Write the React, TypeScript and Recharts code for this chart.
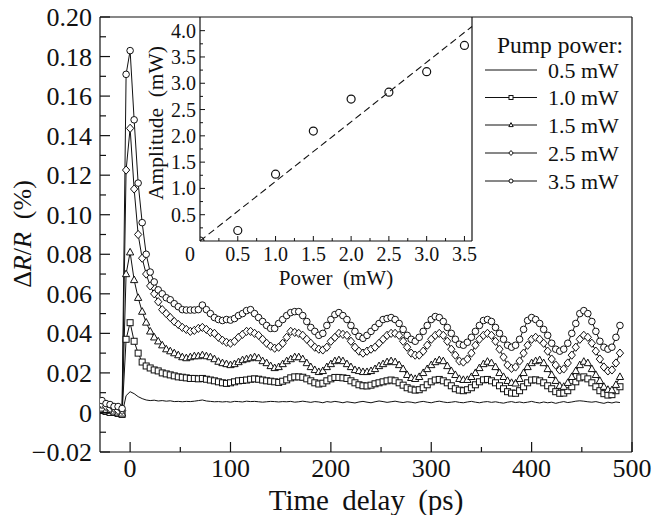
import React from "react";
import {
  LineChart,
  Line,
  XAxis,
  YAxis,
  ReferenceLine,
  ScatterChart,
  Scatter,
} from "recharts";

// time delay (ps)
const times = [
  -28, -24, -20, -16, -12, -8, -4, 0, 4, 8,
  12, 16, 20, 24, 28, 32, 36, 40, 44, 48,
  52, 56, 60, 64, 68, 72, 76, 80, 84, 88,
  92, 96, 100, 104, 108, 112, 116, 120, 124, 128,
  132, 136, 140, 144, 148, 152, 156, 160, 164, 168,
  172, 176, 180, 184, 188, 192, 196, 200, 204, 208,
  212, 216, 220, 224, 228, 232, 236, 240, 244, 248,
  252, 256, 260, 264, 268, 272, 276, 280, 284, 288,
  292, 296, 300, 304, 308, 312, 316, 320, 324, 328,
  332, 336, 340, 344, 348, 352, 356, 360, 364, 368,
  372, 376, 380, 384, 388, 392, 396, 400, 404, 408,
  412, 416, 420, 424, 428, 432, 436, 440, 444, 448,
  452, 456, 460, 464, 468, 472, 476, 480, 484, 488,
];

// dR/R (%) per pump power
const p05 = [
  0.0008, 0.0003, 0.0002, -0.0002, -0.0005, -0.0008, 0.0085, 0.0105, 0.0095, 0.008,
  0.007, 0.0063, 0.006, 0.0062, 0.0058, 0.006, 0.0057, 0.0059, 0.0055, 0.0056,
  0.0054, 0.0056, 0.0055, 0.0057, 0.006, 0.0063, 0.0058, 0.0056, 0.0054, 0.0055,
  0.0053, 0.0055, 0.0052, 0.0056, 0.0055, 0.0053, 0.0057, 0.0055, 0.0056, 0.0054,
  0.0052, 0.0054, 0.0056, 0.0055, 0.0053, 0.0055, 0.0054, 0.0056, 0.0052, 0.0054,
  0.0057, 0.0054, 0.0051, 0.0055, 0.0053, 0.0049, 0.0055, 0.0052, 0.0056, 0.0053,
  0.0049, 0.0054, 0.0051, 0.0048, 0.0053, 0.0056, 0.0052, 0.0049, 0.0054, 0.0058,
  0.0055, 0.0051, 0.0054, 0.0057, 0.0053, 0.005, 0.0054, 0.0052, 0.0048, 0.0053,
  0.0056, 0.0052, 0.0049, 0.0054, 0.0057, 0.0053, 0.005, 0.0052, 0.0055, 0.0051,
  0.0049, 0.0053, 0.0056, 0.0052, 0.0049, 0.0053, 0.0055, 0.0051, 0.0054, 0.005,
  0.0047, 0.0052, 0.0055, 0.005, 0.0053, 0.0049, 0.0052, 0.0056, 0.0051, 0.0048,
  0.0053, 0.0049, 0.0052, 0.0046, 0.0051, 0.0055, 0.005, 0.0053, 0.0057, 0.0059,
  0.0057, 0.0054, 0.0052, 0.0055, 0.005, 0.0046, 0.0052, 0.0048, 0.0053, 0.005,
];

const p10 = [
  0.001, 0.0005, 0.0, 0.0, -0.0005, -0.001, 0.037, 0.0454, 0.036, 0.03,
  0.0255, 0.0235, 0.0225, 0.0215, 0.021, 0.02, 0.0195, 0.019, 0.0185, 0.018,
  0.0178, 0.0175, 0.0172, 0.0172, 0.017, 0.0172, 0.0168, 0.0164, 0.016, 0.0155,
  0.015, 0.0147, 0.015, 0.0155, 0.016, 0.0162, 0.0164, 0.0168, 0.017, 0.0168,
  0.0164, 0.016, 0.0158, 0.0155, 0.0152, 0.0158, 0.0165, 0.0175, 0.018, 0.018,
  0.0178, 0.017, 0.016, 0.015, 0.0144, 0.0148, 0.016, 0.017, 0.0177, 0.0177,
  0.0175, 0.0172, 0.016, 0.015, 0.014, 0.0135, 0.0134, 0.0138, 0.0145, 0.015,
  0.0155, 0.016, 0.0164, 0.016, 0.015, 0.0138, 0.0125, 0.0118, 0.0113, 0.0115,
  0.0125, 0.014, 0.0155, 0.0164, 0.0167, 0.016, 0.015, 0.0135, 0.012, 0.0113,
  0.011, 0.0115, 0.0125, 0.014, 0.0155, 0.0165, 0.0167, 0.016, 0.015, 0.0135,
  0.012, 0.0105, 0.0098, 0.0097, 0.011, 0.013, 0.015, 0.0164, 0.0165, 0.016,
  0.015, 0.0135, 0.012, 0.0105, 0.0097, 0.0098, 0.011, 0.013, 0.0155, 0.0175,
  0.018, 0.017, 0.015, 0.013, 0.011, 0.0095, 0.0088, 0.009, 0.011, 0.013,
];

const p15 = [
  0.002, 0.001, 0.001, 0.0005, 0.0, -0.0005, 0.07, 0.081, 0.067, 0.058,
  0.051, 0.0455, 0.041, 0.038, 0.036, 0.034, 0.032, 0.031, 0.03, 0.029,
  0.028, 0.0275, 0.028, 0.0285, 0.0285, 0.029, 0.0285, 0.028, 0.027, 0.0257,
  0.025, 0.0245, 0.024, 0.0245, 0.0255, 0.0265, 0.027, 0.0275, 0.028, 0.0275,
  0.026, 0.025, 0.0235, 0.0225, 0.023, 0.0245, 0.026, 0.027, 0.028, 0.028,
  0.027, 0.025, 0.023, 0.0215, 0.0205, 0.021, 0.023, 0.0245, 0.026, 0.0265,
  0.026, 0.0245, 0.023, 0.0215, 0.021, 0.0205, 0.0205, 0.021, 0.022, 0.0235,
  0.0245, 0.0255, 0.026, 0.0255, 0.024, 0.022, 0.019, 0.0175, 0.017, 0.018,
  0.02, 0.022, 0.024, 0.0255, 0.0265, 0.026, 0.0235, 0.021, 0.019, 0.017,
  0.0165, 0.0165, 0.018, 0.02, 0.0225, 0.0245, 0.0257, 0.025, 0.023, 0.02,
  0.018, 0.016, 0.015, 0.0147, 0.017, 0.02, 0.023, 0.025, 0.026, 0.0265,
  0.025, 0.022, 0.019, 0.016, 0.0135, 0.013, 0.015, 0.018, 0.021, 0.024,
  0.0257, 0.025, 0.022, 0.019, 0.016, 0.013, 0.0115, 0.0113, 0.014, 0.018,
];

const p25 = [
  0.004, 0.003, 0.002, 0.002, 0.001, 0.001, 0.1226, 0.1437, 0.113, 0.09,
  0.078, 0.07, 0.064, 0.06, 0.056, 0.052, 0.05, 0.048, 0.046, 0.0445,
  0.043, 0.042, 0.041, 0.0415, 0.0425, 0.043, 0.042, 0.0405, 0.04, 0.038,
  0.0365, 0.0355, 0.035, 0.036, 0.038, 0.0395, 0.041, 0.041, 0.04, 0.039,
  0.037, 0.035, 0.0335, 0.0325, 0.033, 0.035, 0.038, 0.041, 0.0405, 0.04,
  0.039, 0.037, 0.035, 0.033, 0.032, 0.0316, 0.033, 0.036, 0.038, 0.04,
  0.0395, 0.039, 0.036, 0.033, 0.031, 0.03, 0.031, 0.032, 0.033, 0.035,
  0.037, 0.039, 0.04, 0.04, 0.039, 0.036, 0.033, 0.03, 0.029, 0.029,
  0.031, 0.034, 0.037, 0.039, 0.04, 0.039, 0.036, 0.032, 0.029, 0.026,
  0.0255, 0.027, 0.03, 0.034, 0.037, 0.039, 0.04, 0.039, 0.036, 0.032,
  0.028, 0.024, 0.0223, 0.023, 0.026, 0.03, 0.034, 0.037, 0.038, 0.037,
  0.035, 0.031, 0.027, 0.024, 0.0215, 0.022, 0.025, 0.029, 0.033, 0.037,
  0.039, 0.038, 0.035, 0.031, 0.027, 0.023, 0.021, 0.0215, 0.025, 0.03,
];

const p35 = [
  0.006, 0.0045, 0.004, 0.003, 0.003, 0.002, 0.171, 0.183, 0.148, 0.116,
  0.096, 0.08, 0.071, 0.066, 0.062, 0.06, 0.058, 0.057, 0.055, 0.0535,
  0.052, 0.0518, 0.0518, 0.0518, 0.052, 0.0543, 0.052, 0.05, 0.048, 0.047,
  0.0465, 0.047, 0.0467, 0.0475, 0.049, 0.05, 0.0515, 0.052, 0.05, 0.048,
  0.046, 0.044, 0.0425, 0.0425, 0.045, 0.047, 0.049, 0.0505, 0.051, 0.051,
  0.049, 0.046, 0.043, 0.041, 0.039, 0.04, 0.044, 0.047, 0.0495, 0.0505,
  0.049, 0.047, 0.044, 0.041, 0.0385, 0.0375, 0.039, 0.041, 0.043, 0.045,
  0.047, 0.0475, 0.048, 0.047, 0.045, 0.042, 0.039, 0.037, 0.036, 0.038,
  0.041, 0.044, 0.047, 0.0485, 0.048, 0.046, 0.043, 0.04, 0.037, 0.0345,
  0.034, 0.0355, 0.038, 0.041, 0.044, 0.0465, 0.047, 0.046, 0.043, 0.04,
  0.037, 0.034, 0.033, 0.034, 0.037, 0.042, 0.0465, 0.048, 0.047, 0.045,
  0.042, 0.039, 0.035, 0.032, 0.031, 0.032, 0.035, 0.04, 0.045, 0.05,
  0.0515, 0.05, 0.046, 0.041, 0.036, 0.033, 0.032, 0.033, 0.038, 0.044,
];

const xTicks = [0, 50, 100, 150, 200, 250, 300, 350, 400, 450, 500];
const yTicks = [
  -0.02, -0.01, 0, 0.01, 0.02, 0.03, 0.04, 0.05, 0.06, 0.07, 0.08, 0.09,
  0.1, 0.11, 0.12, 0.13, 0.14, 0.15, 0.16, 0.17, 0.18, 0.19, 0.2,
];

// inset: amplitude vs pump power
const power = [0, 0.5, 1.0, 1.5, 2.0, 2.5, 3.0, 3.5];
const amplitude = [0, 0.2, 1.27, 2.09, 2.7, 2.83, 3.22, 3.72];
const fitX = [0, 3.6];
const fitY = [0, 4.08];
const insetXTicks = [0.25, 0.5, 0.75, 1, 1.25, 1.5, 1.75, 2, 2.25, 2.5, 2.75, 3, 3.25, 3.5];
const insetXLabels = ["0", "0.5", "1.0", "1.5", "2.0", "2.5", "3.0", "3.5"];
const insetYTicks = [
  0.25, 0.5, 0.75, 1, 1.25, 1.5, 1.75, 2, 2.25, 2.5, 2.75, 3, 3.25, 3.5, 3.75, 4,
];

const legendLabels = ["0.5 mW", "1.0 mW", "1.5 mW", "2.5 mW", "3.5 mW"];

const rows = times.map((t, i) => ({
  t,
  p05: p05[i],
  p10: p10[i],
  p15: p15[i],
  p25: p25[i],
  p35: p35[i],
}));
const ampData = power.map((x, i) => ({ x, y: amplitude[i] }));

const FONT = '"Liberation Serif", "Times New Roman", serif';
const INK = "#111";

// plot box of the main chart
const L = 100;
const B = 452;

function marker(kind: string, cx: number, cy: number, s: number, key?: string) {
  const common = { fill: "#fff", stroke: INK, strokeWidth: 1 };
  if (kind === "square")
    return <rect key={key} x={cx - s} y={cy - s} width={2 * s} height={2 * s} {...common} />;
  if (kind === "triangle")
    return (
      <polygon
        key={key}
        points={`${cx},${cy - s * 1.2} ${cx + s * 1.1},${cy + s * 0.8} ${cx - s * 1.1},${cy + s * 0.8}`}
        {...common}
      />
    );
  if (kind === "diamond")
    return (
      <polygon
        key={key}
        points={`${cx},${cy - s * 1.25} ${cx + s * 1.1},${cy} ${cx},${cy + s * 1.25} ${cx - s * 1.1},${cy}`}
        {...common}
      />
    );
  return <circle key={key} cx={cx} cy={cy} r={s} {...common} />;
}

const dotFor = (kind: string) => (p: any) =>
  marker(kind, p.cx, p.cy, kind === "square" ? 3 : 3.3, `${kind}-${p.index}`);

function XTick(props: any) {
  const { x, payload } = props;
  const v = payload.value;
  const major = v % 100 === 0;
  return (
    <g>
      <line x1={x} x2={x} y1={B} y2={B - (major ? 10 : 5)} stroke={INK} strokeWidth={1.2} />
      {major && (
        <text x={x} y={B + 25} textAnchor="middle" fontFamily={FONT} fontSize={26} fill={INK}>
          {v}
        </text>
      )}
    </g>
  );
}

function YTick(props: any) {
  const { y, payload } = props;
  const v = payload.value;
  const major = Math.round(v * 100) % 2 === 0;
  const label = v === 0 ? "0" : v < 0 ? "\u2212" + Math.abs(v).toFixed(2) : v.toFixed(2);
  return (
    <g>
      <line x1={L} x2={L + (major ? 10 : 6)} y1={y} y2={y} stroke={INK} strokeWidth={1.2} />
      {major && (
        <text x={L - 8} y={y} dy="0.35em" textAnchor="end" fontFamily={FONT} fontSize={26} fill={INK}>
          {label}
        </text>
      )}
    </g>
  );
}

// inset plot box (inside its own svg)
const IL = 60;
const IB = 241;

function InsetXTick(props: any) {
  const { x, payload } = props;
  const v = payload.value;
  const major = Math.round(v * 100) % 50 === 0;
  return (
    <line x1={x} x2={x} y1={IB} y2={IB - (major ? 5 : 3)} stroke={INK} strokeWidth={1} />
  );
}

function InsetYTick(props: any) {
  const { y, payload } = props;
  const v = payload.value;
  const major = Math.round(v * 100) % 50 === 0;
  return (
    <g>
      <line x1={IL} x2={IL + (major ? 5 : 3)} y1={y} y2={y} stroke={INK} strokeWidth={1} />
      {major && (
        <text x={IL - 4} y={y} dy="0.35em" textAnchor="end" fontFamily={FONT} fontSize={20} fill={INK}>
          {v.toFixed(1)}
        </text>
      )}
    </g>
  );
}

const openCircle = (p: any) => (
  <circle cx={p.cx} cy={p.cy} r={4} fill="none" stroke={INK} strokeWidth={1.2} />
);

const series = [
  { key: "p05", kind: "none" },
  { key: "p10", kind: "square" },
  { key: "p15", kind: "triangle" },
  { key: "p25", kind: "diamond" },
  { key: "p35", kind: "circle" },
];

const legendRows = [70, 97.5, 125, 153, 181];

export default function App() {
  return (
    <div style={{ position: "absolute", left: 0, top: 0, width: 653, height: 515, background: "#fff" }}>
      <LineChart
        width={653}
        height={515}
        data={rows}
        margin={{ top: 17, right: 21, bottom: 33, left: 40 }}
      >
        <XAxis
          dataKey="t"
          type="number"
          domain={[-30, 500]}
          ticks={xTicks}
          interval={0}
          allowDataOverflow
          tickLine={false}
          tick={(p: any) => <XTick {...p} />}
          axisLine={{ stroke: INK, strokeWidth: 1.2 }}
          height={30}
        />
        <YAxis
          type="number"
          domain={[-0.02, 0.2]}
          ticks={yTicks}
          interval={0}
          allowDataOverflow
          tickLine={false}
          tick={(p: any) => <YTick {...p} />}
          axisLine={{ stroke: INK, strokeWidth: 1.2 }}
          width={60}
        />
        <ReferenceLine x={500} stroke={INK} strokeWidth={1.2} />
        <ReferenceLine y={0.2} stroke={INK} strokeWidth={1.2} />
        {series.map((s) => (
          <Line
            key={s.key}
            dataKey={s.key}
            type="linear"
            stroke={INK}
            strokeWidth={1}
            dot={s.kind === "none" ? false : dotFor(s.kind)}
            activeDot={false}
            isAnimationActive={false}
          />
        ))}

        <text
          x={22}
          y={234}
          transform="rotate(-90 22 234)"
          textAnchor="middle"
          dy="0.35em"
          fontFamily={FONT}
          fontSize={26}
          fill={INK}
        >
          {"\u0394"}
          <tspan fontStyle="italic">R</tspan>/<tspan fontStyle="italic">R</tspan>
          {"\u00a0 (%)"}
        </text>
        <text
          x={366}
          y={510}
          textAnchor="middle"
          fontFamily={FONT}
          fontSize={29}
          wordSpacing={6}
          fill={INK}
        >
          Time delay (ps)
        </text>

        <text x={623} y={45} dy="0.35em" textAnchor="end" fontFamily={FONT} fontSize={23.5} fill={INK}>
          Pump power:
        </text>
        {legendLabels.map((lab, i) => (
          <g key={lab}>
            <line x1={485} x2={537} y1={legendRows[i]} y2={legendRows[i]} stroke={INK} strokeWidth={1} />
            {series[i].kind !== "none" && marker(series[i].kind, 511, legendRows[i], 2)}
            <text x={548} y={legendRows[i]} dy="0.35em" fontFamily={FONT} fontSize={22} fill={INK}>
              {lab}
            </text>
          </g>
        ))}

        <text
          x={155}
          y={123}
          transform="rotate(-90 155 123)"
          textAnchor="middle"
          dy="0.35em"
          fontFamily={FONT}
          fontSize={21.5}
          fill={INK}
        >
          {"Amplitude\u00a0 (mW)"}
        </text>
        <text x={336} y={278} dy="0.35em" textAnchor="middle" fontFamily={FONT} fontSize={21} fill={INK}>
          {"Power\u00a0 (mW)"}
        </text>
        {insetXLabels.map((lab, i) => (
          <text
            key={lab}
            x={200 + i * 37.8 - (i === 0 ? 10 : 0)}
            y={254}
            dy="0.35em"
            textAnchor="middle"
            fontFamily={FONT}
            fontSize={20}
            fill={INK}
          >
            {lab}
          </text>
        ))}
      </LineChart>

      <div style={{ position: "absolute", left: 140, top: 0 }}>
        <ScatterChart width={340} height={300} margin={{ top: 17, right: 8, bottom: 29, left: 0 }}>
          <XAxis
            dataKey="x"
            type="number"
            domain={[0, 3.6]}
            ticks={insetXTicks}
            interval={0}
            allowDataOverflow
            tickLine={false}
            tick={(p: any) => <InsetXTick {...p} />}
            axisLine={{ stroke: INK, strokeWidth: 1.2 }}
            height={30}
          />
          <YAxis
            dataKey="y"
            type="number"
            domain={[0, 4.26]}
            ticks={insetYTicks}
            interval={0}
            allowDataOverflow
            tickLine={false}
            tick={(p: any) => <InsetYTick {...p} />}
            axisLine={{ stroke: INK, strokeWidth: 1.2 }}
            width={60}
          />
          <ReferenceLine x={3.6} stroke={INK} strokeWidth={1.2} />
          <ReferenceLine
            segment={[
              { x: fitX[0], y: fitY[0] },
              { x: fitX[1], y: fitY[1] },
            ]}
            stroke={INK}
            strokeWidth={1.1}
            strokeDasharray="7 4"
          />
          <Scatter data={ampData} shape={openCircle} isAnimationActive={false} />
        </ScatterChart>
      </div>
    </div>
  );
}
